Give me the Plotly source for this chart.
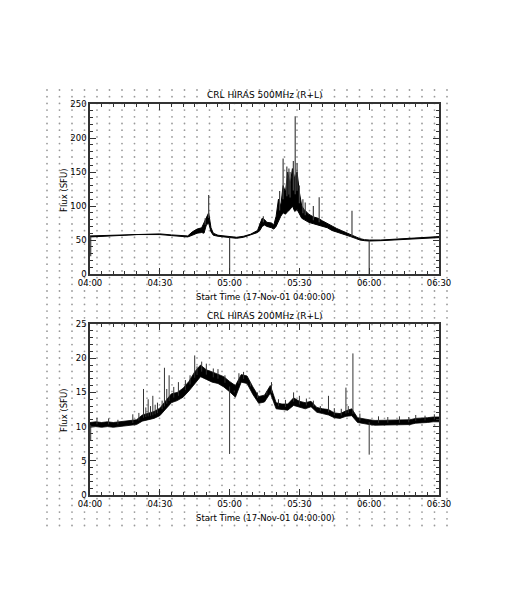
import pandas as pd
import numpy as np
import plotly.graph_objects as go

T0 = pd.Timestamp("2001-11-17 04:00:00")

# ---------------- 500 MHz (minutes after 04:00, flux envelope) ----------------
t500 = [0, 5, 10, 15, 20, 25, 30, 35, 40, 42, 44, 46, 48, 49, 50, 51, 52, 53, 55, 58,
        60, 63, 66, 69, 72, 73, 74, 75, 76, 78, 79, 80, 81, 82, 83, 84, 85, 86, 87, 88,
        89, 90, 91, 92, 93, 94, 96, 98, 100, 102, 104, 106, 108, 110, 112, 114, 116, 118,
        120, 125, 130, 135, 140, 145, 150]
lo500 = [54.5, 55, 56, 57, 58, 58.5, 58, 56.5, 55, 54.5, 57, 60, 61, 60, 72, 75, 62, 57, 55.5, 54,
         53, 52.5, 54, 57, 61, 64, 70, 72, 70, 68, 66, 70, 78, 85, 90, 88, 92, 95, 100, 92,
         95, 88, 82, 80, 78, 76, 74, 72, 70, 68, 64, 62, 60, 57, 55, 52.5, 50, 49,
         48.5, 49, 50, 51, 51.5, 52, 53.5]
hi500 = [56, 56.5, 57, 58, 59, 59.5, 59, 57.5, 56, 56, 62, 66, 68, 75, 82, 90, 68, 60, 57, 55.5,
         54.5, 54, 55.5, 58.5, 64, 72, 82, 80, 76, 75, 72, 85, 110, 100, 130, 120, 150, 130, 155, 140,
         150, 120, 100, 95, 92, 88, 84, 82, 78, 74, 70, 67, 64, 61, 58, 55, 52, 50.5,
         50, 50, 51, 52, 53, 53.5, 55]
spk500_t = [0.3, 49.5, 51, 60, 74.5, 81.5, 83, 84.6, 85.5, 86, 87.4, 88.2, 89, 90, 91.5, 92.5,
            96, 98.5, 112.6, 120]
spk500_v = [26, 82, 116, 0, 85, 122, 170, 158, 155, 150, 166, 232, 163, 130, 110, 105,
            100, 113, 93, 0]

# ---------------- 200 MHz ----------------
t200 = [0, 2.5, 5, 7.5, 10, 12.5, 15, 17.5, 20, 22.5, 25, 27.5, 30, 32.5, 35, 37.5, 40, 42.5,
        45, 47.5, 50, 52.5, 55, 57.5, 60, 62.5, 65, 67.5, 70, 72.5, 75, 77.5, 80, 82.5, 85,
        87.5, 90, 92.5, 95, 97.5, 100, 102.5, 105, 107.5, 110, 112.5, 115, 117.5, 120, 122.5,
        125, 127.5, 130, 132.5, 135, 137.5, 140, 142.5, 145, 147.5, 150]
lo200 = [9.9, 10.0, 9.9, 10.0, 9.9, 10.0, 10.0, 10.1, 10.3, 10.8, 11.0, 11.2, 11.6, 12.5, 13.5, 13.8, 14.3, 15.2,
         16.3, 17.3, 16.9, 16.5, 16.3, 15.8, 15.1, 14.3, 16.5, 16.3, 14.7, 13.4, 13.6, 14.9, 12.6, 12.5, 12.4,
         13.1, 12.8, 12.6, 12.9, 12.1, 11.9, 11.7, 11.3, 11.2, 11.5, 11.6, 10.6, 10.4, 10.3, 10.2,
         10.2, 10.2, 10.3, 10.2, 10.2, 10.3, 10.5, 10.5, 10.6, 10.7, 10.7]
hi200 = [10.6, 10.7, 10.6, 10.7, 10.6, 10.7, 10.7, 10.8, 11.0, 11.7, 12.0, 12.2, 12.7, 13.8, 14.8, 15.0, 15.6, 16.6,
         18.0, 19.0, 18.3, 18.0, 17.7, 17.3, 16.6, 16.0, 17.6, 17.4, 15.8, 14.4, 14.6, 16.0, 13.5, 13.3, 13.3,
         14.2, 13.7, 13.5, 13.7, 12.8, 12.6, 12.5, 12.0, 11.9, 12.3, 12.6, 11.3, 11.1, 11.0, 10.9,
         10.9, 10.9, 11.0, 10.9, 10.9, 11.0, 11.2, 11.2, 11.3, 11.4, 11.4]
spk200_t = [0.3, 3, 8, 12, 18.4, 21, 23, 24, 25, 26, 27, 28, 29, 31, 32, 33, 34, 36, 38, 41, 43,
            45, 46, 48, 50, 53, 55, 58, 60, 62, 64, 66, 69, 72, 76, 78, 81, 84, 87.5, 90, 93,
            96, 99, 102.5, 105, 108, 110, 111, 113, 116, 120, 124, 128, 133, 137, 140, 144, 148]
spk200_v = [8.0, 11.3, 11.2, 11.0, 11.8, 12.0, 15.5, 12.8, 14.0, 13.0, 14.5, 13.2, 13.5, 13.8, 18.6, 15.5,
            17.5, 15.8, 16.5, 16.8, 17.5, 20.4, 18.8, 19.5, 19.2, 18.5, 18.4, 17.5, 6.0, 15.0, 17.8, 18.0,
            16.5, 15.0, 15.2, 16.5, 14.0, 13.9, 15.0, 14.5, 14.1, 13.8, 13.0, 14.5, 12.7, 12.6, 15.7,
            13.0, 20.7, 11.9, 5.9, 11.5, 11.4, 11.5, 11.4, 11.7, 11.6, 11.8]

TITLE_500 = "CRL HIRAS 500MHz (R+L)"
TITLE_200 = "CRL HIRAS 200MHz (R+L)"
XTITLE = "Start Time (17-Nov-01 04:00:00)"
YTITLE = "Flux (SFU)"


def ts(mins):
    return [T0 + pd.Timedelta(minutes=m) for m in mins]


def spikes(st, sv, bt, blo, bhi):
    xs, ys = [], []
    for t, v in zip(st, sv):
        base = (np.interp(t, bt, blo) + np.interp(t, bt, bhi)) / 2
        xs += [T0 + pd.Timedelta(minutes=t), T0 + pd.Timedelta(minutes=t), None]
        ys += [base, v, None]
    return xs, ys


fig = go.Figure()

W, H = 507, 591
OFF = 8  # page body margin of the html page


def px(v):
    return (v - OFF) / W


def py(v):
    return 1 - (v - OFF) / H


# decorative dotted background (page texture)
gx = np.arange(47, 450, 12.5) - OFF
gy = np.arange(90, 530, 6.7) - OFF
GX, GY = np.meshgrid(gx, gy)
fig.add_trace(go.Scatter(x=GX.ravel(), y=GY.ravel(), mode="markers",
                         marker=dict(size=1.8, color="#9a9a9a"), hoverinfo="skip",
                         xaxis="x", yaxis="y", showlegend=False))

# 500 MHz panel
fig.add_trace(go.Scatter(x=ts(t500), y=lo500, mode="lines", line=dict(color="black", width=1),
                         xaxis="x2", yaxis="y2", showlegend=False))
fig.add_trace(go.Scatter(x=ts(t500), y=hi500, mode="lines", line=dict(color="black", width=1),
                         fill="tonexty", fillcolor="black", xaxis="x2", yaxis="y2", showlegend=False))
sx, sy = spikes(spk500_t, spk500_v, t500, lo500, hi500)
fig.add_trace(go.Scatter(x=sx, y=sy, mode="lines", line=dict(color="#444", width=1.2),
                         xaxis="x2", yaxis="y2", showlegend=False))

# 200 MHz panel
fig.add_trace(go.Scatter(x=ts(t200), y=lo200, mode="lines", line=dict(color="black", width=0.8),
                         xaxis="x3", yaxis="y3", showlegend=False))
fig.add_trace(go.Scatter(x=ts(t200), y=hi200, mode="lines", line=dict(color="black", width=0.8),
                         fill="tonexty", fillcolor="black", xaxis="x3", yaxis="y3", showlegend=False))
sx, sy = spikes(spk200_t, spk200_v, t200, lo200, hi200)
fig.add_trace(go.Scatter(x=sx, y=sy, mode="lines", line=dict(color="#333", width=1),
                         xaxis="x3", yaxis="y3", showlegend=False))

FONT = dict(family="DejaVu Sans", size=9, color="black")
TFONT = dict(family="DejaVu Sans", size=8.5, color="black")


def xax(anchor):
    return dict(domain=[px(90), px(439)], anchor=anchor, type="date", automargin=False,
                range=[T0, T0 + pd.Timedelta(minutes=150)],
                tickformat="%H:%M", dtick=30 * 60 * 1000, tick0=T0,
                ticks="inside", ticklen=6, tickcolor="#333", mirror="allticks",
                showline=True, linecolor="#333", linewidth=1.5, showgrid=False,
                zeroline=False, tickfont=TFONT,
                minor=dict(ticks="inside", ticklen=3, dtick=5 * 60 * 1000, tickcolor="#333"))


def yax(anchor, dom, rng, dt, mdt):
    return dict(domain=dom, anchor=anchor, range=rng, dtick=dt, tick0=0, automargin=False,
                ticks="inside", ticklen=6, tickcolor="#333", mirror="allticks",
                showline=True, linecolor="#333", linewidth=1.5, showgrid=False,
                zeroline=False, tickfont=TFONT,
                minor=dict(ticks="inside", ticklen=3, dtick=mdt, tickcolor="#333"))


def ann(text, x, y, font, angle=0):
    return dict(text=text, x=px(x), y=py(y), xref="paper", yref="paper", showarrow=False,
                xanchor="center", yanchor="middle", textangle=angle, font=font)


fig.update_layout(
    width=W, height=H, margin=dict(l=0, r=0, t=0, b=0, autoexpand=False),
    paper_bgcolor="white", plot_bgcolor="rgba(0,0,0,0)",
    xaxis=dict(domain=[0, 1], range=[0, W], visible=False, fixedrange=True, automargin=False),
    yaxis=dict(domain=[0, 1], range=[H, 0], visible=False, fixedrange=True, automargin=False),
    xaxis2=xax("y2"),
    yaxis2=yax("x2", [py(274), py(104)], [0, 250], 50, 10),
    xaxis3=xax("y3"),
    yaxis3=yax("x3", [py(495), py(324)], [0, 25], 5, 1),
    annotations=[
        ann(TITLE_500, 265, 95, FONT),
        ann(TITLE_200, 265, 316, FONT),
        ann(XTITLE, 265, 297, TFONT),
        ann(XTITLE, 265, 518, TFONT),
        ann(YTITLE, 64, 190, TFONT, -90),
        ann(YTITLE, 64, 410, TFONT, -90),
    ],
)

fig.write_html("out.html")
